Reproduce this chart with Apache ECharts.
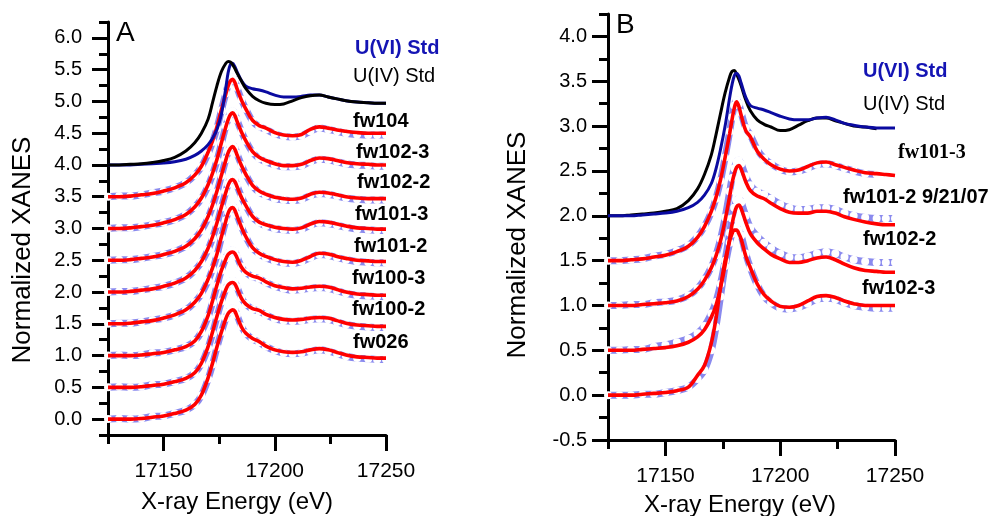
<!DOCTYPE html>
<html>
<head>
<meta charset="utf-8">
<script src="https://cdn.jsdelivr.net/npm/echarts@6/dist/echarts.min.js"></script>
<style>html,body{margin:0;padding:0;background:#fff}#c{width:1005px;height:516px}</style>
</head>
<body>
<div id="c"></div>
<script>
// ---- shared energy grid (eV) ----
const energy = [17125,17130,17135,17140,17145,17150,17155,17160,17164,17167,17170,17172,17174,17176,17178,17179,17180,17181,17182,17183,17185,17187,17190,17193,17196,17200,17204,17208,17212,17216,17220,17224,17228,17232,17237,17242,17246,17250];

// ---- tick values ----
const xMajorTicks = [17150,17200,17250];
const xMinorStep = 25;
const yMajorTicksA = [0,0.5,1,1.5,2,2.5,3,3.5,4,4.5,5,5.5,6];
const yMajorTicksB = [-0.5,0,0.5,1,1.5,2,2.5,3,3.5,4];
const yMinorStep = 0.25;

// ---- Panel A standards ----
const A_U6std = [4.00,4.00,4.00,4.01,4.02,4.03,4.05,4.09,4.15,4.22,4.32,4.42,4.56,4.80,5.22,5.45,5.58,5.60,5.55,5.47,5.33,5.24,5.20,5.18,5.15,5.10,5.07,5.07,5.08,5.10,5.10,5.07,5.04,5.01,4.99,4.98,4.97,4.97];
const A_U4std = [4.00,4.00,4.01,4.02,4.04,4.07,4.12,4.22,4.35,4.50,4.72,4.98,5.25,5.47,5.60,5.63,5.62,5.58,5.52,5.45,5.32,5.20,5.08,5.01,4.97,4.95,4.96,5.01,5.06,5.09,5.10,5.07,5.04,5.01,4.99,4.98,4.97,4.97];

// ---- Panel A samples: fit (red) and data (circles) ----
const A_fw104_fit  = [3.50,3.50,3.51,3.53,3.55,3.59,3.64,3.72,3.84,3.98,4.20,4.38,4.60,4.87,5.12,5.24,5.32,5.35,5.30,5.20,5.02,4.88,4.70,4.62,4.58,4.51,4.47,4.46,4.48,4.56,4.60,4.58,4.55,4.53,4.51,4.50,4.50,4.50];
const A_fw104_data = [3.50,3.51,3.51,3.53,3.56,3.59,3.64,3.72,3.84,3.97,4.18,4.36,4.58,4.86,5.13,5.26,5.35,5.38,5.33,5.22,5.03,4.88,4.69,4.60,4.56,4.49,4.45,4.44,4.46,4.53,4.58,4.56,4.53,4.50,4.48,4.47,4.47,4.47];
const A_fw1023_fit  = [3.00,3.00,3.01,3.03,3.05,3.09,3.14,3.22,3.34,3.48,3.69,3.87,4.09,4.35,4.60,4.71,4.79,4.82,4.78,4.69,4.52,4.38,4.21,4.12,4.07,4.02,3.99,3.99,4.01,4.07,4.11,4.10,4.07,4.04,4.02,4.01,4.00,4.00];
const A_fw1023_data = [3.00,3.01,3.01,3.03,3.06,3.09,3.14,3.22,3.34,3.47,3.67,3.85,4.07,4.34,4.61,4.73,4.82,4.85,4.81,4.71,4.53,4.38,4.20,4.10,4.05,4.00,3.97,3.97,3.99,4.05,4.09,4.08,4.05,4.02,4.00,3.99,3.98,3.98];
const A_fw1022_fit  = [2.50,2.50,2.51,2.53,2.55,2.59,2.64,2.72,2.84,2.98,3.19,3.37,3.59,3.84,4.08,4.19,4.26,4.29,4.25,4.16,3.99,3.85,3.68,3.59,3.54,3.49,3.47,3.46,3.48,3.54,3.57,3.56,3.53,3.50,3.48,3.47,3.47,3.47];
const A_fw1022_data = [2.50,2.51,2.51,2.53,2.56,2.59,2.64,2.72,2.84,2.97,3.17,3.35,3.57,3.83,4.09,4.21,4.29,4.32,4.28,4.18,4.00,3.85,3.67,3.57,3.52,3.47,3.45,3.44,3.46,3.52,3.55,3.54,3.51,3.48,3.46,3.45,3.45,3.45];
const A_fw1013_fit  = [2.00,2.00,2.01,2.03,2.05,2.09,2.14,2.22,2.34,2.48,2.69,2.87,3.09,3.34,3.57,3.68,3.75,3.77,3.74,3.66,3.49,3.36,3.19,3.10,3.06,3.02,3.00,2.99,3.01,3.07,3.11,3.10,3.07,3.04,3.01,3.00,2.99,2.99];
const A_fw1013_data = [2.00,2.01,2.01,2.03,2.06,2.09,2.14,2.22,2.34,2.47,2.67,2.85,3.07,3.33,3.58,3.70,3.78,3.80,3.77,3.68,3.50,3.36,3.18,3.09,3.04,3.00,2.98,2.97,2.99,3.05,3.09,3.08,3.05,3.02,2.99,2.98,2.97,2.97];
const A_fw1012_fit  = [1.50,1.50,1.51,1.53,1.55,1.59,1.64,1.72,1.84,1.98,2.20,2.38,2.60,2.87,3.12,3.24,3.31,3.33,3.29,3.20,3.02,2.87,2.70,2.61,2.56,2.51,2.48,2.47,2.50,2.56,2.61,2.60,2.56,2.53,2.50,2.49,2.48,2.48];
const A_fw1012_data = [1.50,1.51,1.51,1.53,1.56,1.59,1.64,1.72,1.84,1.97,2.18,2.36,2.58,2.86,3.13,3.26,3.34,3.36,3.32,3.22,3.03,2.87,2.69,2.60,2.54,2.49,2.46,2.45,2.48,2.54,2.59,2.58,2.54,2.51,2.48,2.47,2.46,2.46];
const A_fw1003_fit  = [1.00,1.00,1.00,1.01,1.03,1.05,1.09,1.14,1.23,1.38,1.63,1.86,2.11,2.34,2.52,2.59,2.62,2.63,2.61,2.54,2.39,2.31,2.25,2.22,2.16,2.10,2.07,2.05,2.06,2.08,2.09,2.08,2.04,2.00,1.97,1.96,1.95,1.95];
const A_fw1003_data = [1.00,1.01,1.00,1.01,1.04,1.05,1.09,1.14,1.23,1.37,1.61,1.84,2.10,2.34,2.53,2.61,2.65,2.66,2.64,2.56,2.40,2.31,2.24,2.21,2.15,2.09,2.05,2.03,2.04,2.06,2.07,2.06,2.02,1.98,1.95,1.94,1.93,1.93];
const A_fw1002_fit  = [0.50,0.50,0.50,0.51,0.53,0.55,0.59,0.64,0.73,0.88,1.14,1.37,1.62,1.85,2.04,2.11,2.14,2.15,2.13,2.06,1.90,1.81,1.74,1.71,1.65,1.60,1.57,1.56,1.57,1.59,1.60,1.59,1.55,1.51,1.48,1.47,1.46,1.46];
const A_fw1002_data = [0.50,0.51,0.50,0.51,0.54,0.55,0.59,0.64,0.73,0.87,1.12,1.35,1.61,1.85,2.05,2.13,2.17,2.18,2.16,2.08,1.91,1.81,1.73,1.70,1.64,1.58,1.55,1.54,1.55,1.57,1.58,1.57,1.53,1.49,1.46,1.45,1.44,1.44];
const A_fw026_fit  = [0.00,0.00,0.00,0.01,0.03,0.05,0.09,0.14,0.23,0.38,0.65,0.88,1.14,1.37,1.58,1.66,1.70,1.72,1.70,1.62,1.45,1.35,1.27,1.22,1.15,1.09,1.06,1.05,1.06,1.09,1.11,1.09,1.05,1.01,0.98,0.97,0.96,0.96];
const A_fw026_data = [0.00,0.01,0.00,0.01,0.04,0.05,0.09,0.14,0.23,0.37,0.63,0.86,1.13,1.37,1.59,1.68,1.73,1.75,1.73,1.64,1.46,1.35,1.26,1.21,1.14,1.08,1.04,1.03,1.04,1.07,1.09,1.07,1.03,0.99,0.96,0.95,0.94,0.94];

// ---- Panel B standards ----
const B_U6std = [2.00,2.00,2.00,2.01,2.02,2.03,2.05,2.09,2.15,2.23,2.36,2.52,2.74,3.00,3.32,3.46,3.56,3.59,3.56,3.48,3.32,3.23,3.20,3.18,3.15,3.11,3.08,3.07,3.07,3.09,3.10,3.07,3.03,3.01,2.99,2.98,2.98,2.98];
const B_U4std = [2.00,2.00,2.01,2.02,2.03,2.05,2.08,2.17,2.30,2.46,2.68,2.90,3.14,3.37,3.55,3.61,3.62,3.58,3.52,3.45,3.29,3.17,3.07,3.02,2.99,2.95,2.96,3.01,3.06,3.09,3.09,3.06,3.03,3.00,2.99,2.97,null,null];

// ---- Panel B samples ----
const B_fw1013_fit  = [1.50,1.50,1.51,1.52,1.54,1.56,1.60,1.66,1.76,1.88,2.05,2.20,2.40,2.65,2.92,3.07,3.20,3.27,3.22,3.12,2.95,2.88,2.72,2.63,2.57,2.52,2.50,2.51,2.55,2.59,2.60,2.57,2.54,2.51,2.48,2.47,2.46,2.45];
const B_fw1013_data = [1.50,1.50,1.51,1.52,1.55,1.57,1.61,1.67,1.77,1.88,2.04,2.19,2.39,2.65,2.94,3.10,3.23,3.29,3.25,3.15,2.98,2.90,2.74,2.64,2.58,2.52,2.49,2.50,2.53,2.57,2.58,2.56,2.53,2.50,2.47,2.46,null,null];
const B_fw1012_fit  = [1.00,1.00,1.00,1.01,1.02,1.03,1.05,1.10,1.18,1.28,1.42,1.55,1.72,1.95,2.22,2.36,2.47,2.54,2.56,2.52,2.38,2.28,2.22,2.19,2.14,2.08,2.04,2.03,2.03,2.05,2.05,2.03,1.99,1.96,1.93,1.91,1.90,1.90];
const B_fw1012_data = [1.00,1.00,1.01,1.01,1.03,1.04,1.06,1.11,1.19,1.29,1.43,1.56,1.74,1.98,2.27,2.42,2.53,2.60,2.62,2.58,2.44,2.34,2.27,2.24,2.19,2.13,2.09,2.07,2.07,2.09,2.09,2.07,2.03,2.00,1.98,1.97,1.97,1.97];
const B_fw1022_fit  = [0.50,0.50,0.50,0.51,0.52,0.53,0.55,0.59,0.65,0.73,0.87,1.00,1.20,1.45,1.75,1.90,2.02,2.10,2.12,2.08,1.93,1.80,1.70,1.63,1.57,1.52,1.48,1.48,1.50,1.53,1.54,1.51,1.46,1.42,1.39,1.38,1.37,1.37];
const B_fw1022_data = [0.50,0.50,0.51,0.51,0.54,0.56,0.59,0.63,0.69,0.77,0.91,1.04,1.24,1.50,1.81,1.97,2.09,2.17,2.19,2.15,2.00,1.87,1.77,1.70,1.64,1.58,1.54,1.53,1.55,1.58,1.60,1.58,1.54,1.51,1.49,1.48,1.48,1.48];
const B_fw1023_fit  = [0.00,0.00,0.00,0.01,0.02,0.03,0.05,0.09,0.22,0.33,0.58,0.85,1.20,1.50,1.72,1.80,1.84,1.84,1.80,1.74,1.55,1.42,1.24,1.12,1.05,0.99,0.98,1.00,1.05,1.10,1.11,1.09,1.05,1.02,1.00,1.00,1.00,1.00];
const B_fw1023_data = [0.00,0.00,0.00,0.01,0.01,0.03,0.05,0.09,0.18,0.28,0.50,0.76,1.10,1.44,1.70,1.80,1.85,1.87,1.84,1.78,1.58,1.42,1.23,1.10,1.03,0.97,0.96,0.98,1.02,1.07,1.08,1.07,1.03,1.00,0.98,0.97,0.97,0.97];

// ---- labels ----
const labelsA = ['U(VI) Std','U(IV) Std','fw104','fw102-3','fw102-2','fw101-3','fw101-2','fw100-3','fw100-2','fw026'];
const labelsB = ['U(VI) Std','U(IV) Std','fw101-3','fw101-2 9/21/07','fw102-2','fw102-3'];
const yTitle = 'Normalized XANES';
const xTitle = 'X-ray Energy (eV)';

const FONT = 'Arial, "Liberation Sans", sans-serif';
const pts = v => energy.map((e, i) => [e, v[i]]);

function stdLine(v, color, xi, yi, z) {
  return {type:'line', xAxisIndex:xi, yAxisIndex:yi, data:pts(v), smooth:0.35, showSymbol:false,
    lineStyle:{color:color, width:3}, z:z, silent:true, animation:false};
}
function fitLine(v, xi, yi) {
  return {type:'line', xAxisIndex:xi, yAxisIndex:yi, data:pts(v), smooth:0.35, showSymbol:false,
    lineStyle:{color:'#ff0000', width:3.6}, z:4, silent:true, animation:false};
}
function dataLine(v, xi, yi) {
  return {type:'line', xAxisIndex:xi, yAxisIndex:yi, data:pts(v), smooth:0.35,
    symbol:'emptyCircle', symbolSize:6, showSymbol:true,
    itemStyle:{color:'#ffffff', borderColor:'#3c3cd8', borderWidth:1},
    lineStyle:{color:'#8a8aee', width:7}, z:3, silent:true, animation:false};
}

const axisLine = {show:true, onZero:false, lineStyle:{color:'#000', width:3}};
// first axis: all ticks at the minor step + major labels; second axis: longer major ticks
function xAxes(grid) {
  return [
    {gridIndex:grid, type:'value', position:'bottom', min:17125, max:17250, interval:xMinorStep,
      axisLine:axisLine, splitLine:{show:false},
      axisTick:{show:true, length:9, lineStyle:{color:'#000', width:3}},
      axisLabel:{show:true, customValues:xMajorTicks, margin:26, fontSize:21, color:'#000', fontFamily:FONT,
        formatter:v => String(v)}},
    {gridIndex:grid, type:'value', position:'bottom', min:17125, max:17250,
      axisLine:{show:false, onZero:false}, splitLine:{show:false},
      axisTick:{show:true, customValues:xMajorTicks, length:16, lineStyle:{color:'#000', width:3}},
      axisLabel:{show:false}}
  ];
}
function yAxes(grid, min, max, major, margin) {
  return [
    {gridIndex:grid, type:'value', position:'left', min:min, max:max, interval:yMinorStep,
      axisLine:axisLine, splitLine:{show:false},
      axisTick:{show:true, length:9, lineStyle:{color:'#000', width:3}},
      axisLabel:{show:true, customValues:major, margin:margin, fontSize:20, color:'#000', fontFamily:FONT,
        formatter:v => v.toFixed(1)}},
    {gridIndex:grid, type:'value', position:'left', min:min, max:max,
      axisLine:{show:false, onZero:false}, splitLine:{show:false},
      axisTick:{show:true, customValues:major, length:16, lineStyle:{color:'#000', width:3}},
      axisLabel:{show:false}}
  ];
}

function txt(x, y, text, opts) {
  return {type:'text', x:x, y:y, rotation:(opts && opts.rot) || 0, silent:true,
    style:Object.assign({text:text, fontFamily:FONT, fontSize:20, fill:'#000',
      align:'left', verticalAlign:'middle'}, (opts && opts.style) || {})};
}
const bold = {fontWeight:'bold'};
const blueBold = {fontWeight:'bold', fill:'#1414b4'};

const chart = echarts.init(document.getElementById('c'), null, {renderer:'canvas'});
chart.setOption({
  animation:false,
  backgroundColor:'#ffffff',
  grid:[
    {left:108, right:619, top:22, bottom:81},
    {left:608, right:110, top:14, bottom:76}
  ],
  xAxis:[...xAxes(0), ...xAxes(1)],
  yAxis:[...yAxes(0, -0.25, 6.25, yMajorTicksA, 26), ...yAxes(1, -0.5, 4.25, yMajorTicksB, 21)],
  series:[
    // Panel A
    dataLine(A_fw104_data,0,0), dataLine(A_fw1023_data,0,0), dataLine(A_fw1022_data,0,0), dataLine(A_fw1013_data,0,0),
    dataLine(A_fw1012_data,0,0), dataLine(A_fw1003_data,0,0), dataLine(A_fw1002_data,0,0), dataLine(A_fw026_data,0,0),
    fitLine(A_fw104_fit,0,0), fitLine(A_fw1023_fit,0,0), fitLine(A_fw1022_fit,0,0), fitLine(A_fw1013_fit,0,0),
    fitLine(A_fw1012_fit,0,0), fitLine(A_fw1003_fit,0,0), fitLine(A_fw1002_fit,0,0), fitLine(A_fw026_fit,0,0),
    stdLine(A_U6std,'#0a0aa0',0,0,5), stdLine(A_U4std,'#000000',0,0,6),
    // Panel B
    dataLine(B_fw1013_data,2,2), dataLine(B_fw1012_data,2,2), dataLine(B_fw1022_data,2,2), dataLine(B_fw1023_data,2,2),
    fitLine(B_fw1013_fit,2,2), fitLine(B_fw1012_fit,2,2), fitLine(B_fw1022_fit,2,2), fitLine(B_fw1023_fit,2,2),
    stdLine(B_U6std,'#0a0aa0',2,2,6), stdLine(B_U4std,'#000000',2,2,5)
  ],
  graphic:[
    txt(116, 33, 'A', {style:{fontSize:28}}),
    txt(616, 25, 'B', {style:{fontSize:28}}),
    txt(355, 48, labelsA[0], {style:blueBold}),
    txt(353, 76, labelsA[1]),
    txt(353, 121, labelsA[2], {style:bold}),
    txt(356, 152, labelsA[3], {style:bold}),
    txt(357, 182, labelsA[4], {style:bold}),
    txt(355, 214, labelsA[5], {style:bold}),
    txt(354, 246, labelsA[6], {style:bold}),
    txt(352, 278, labelsA[7], {style:bold}),
    txt(352, 309, labelsA[8], {style:bold}),
    txt(353, 342, labelsA[9], {style:bold}),
    txt(863, 71, labelsB[0], {style:blueBold}),
    txt(863, 104, labelsB[1]),
    txt(898, 153, labelsB[2], {style:{fontWeight:'bold', fontFamily:'"Times New Roman", "Liberation Serif", serif'}}),
    txt(843, 197, labelsB[3], {style:bold}),
    txt(863, 239, labelsB[4], {style:bold}),
    txt(862, 288, labelsB[5], {style:bold}),
    txt(23, 250, yTitle, {rot:Math.PI/2, style:{fontSize:26, align:'center'}}),
    txt(518, 245, yTitle, {rot:Math.PI/2, style:{fontSize:26, align:'center'}}),
    txt(237, 502, xTitle, {style:{fontSize:24, align:'center'}}),
    txt(740, 505, xTitle, {style:{fontSize:24, align:'center'}})
  ]
});
</script>
</body>
</html>
